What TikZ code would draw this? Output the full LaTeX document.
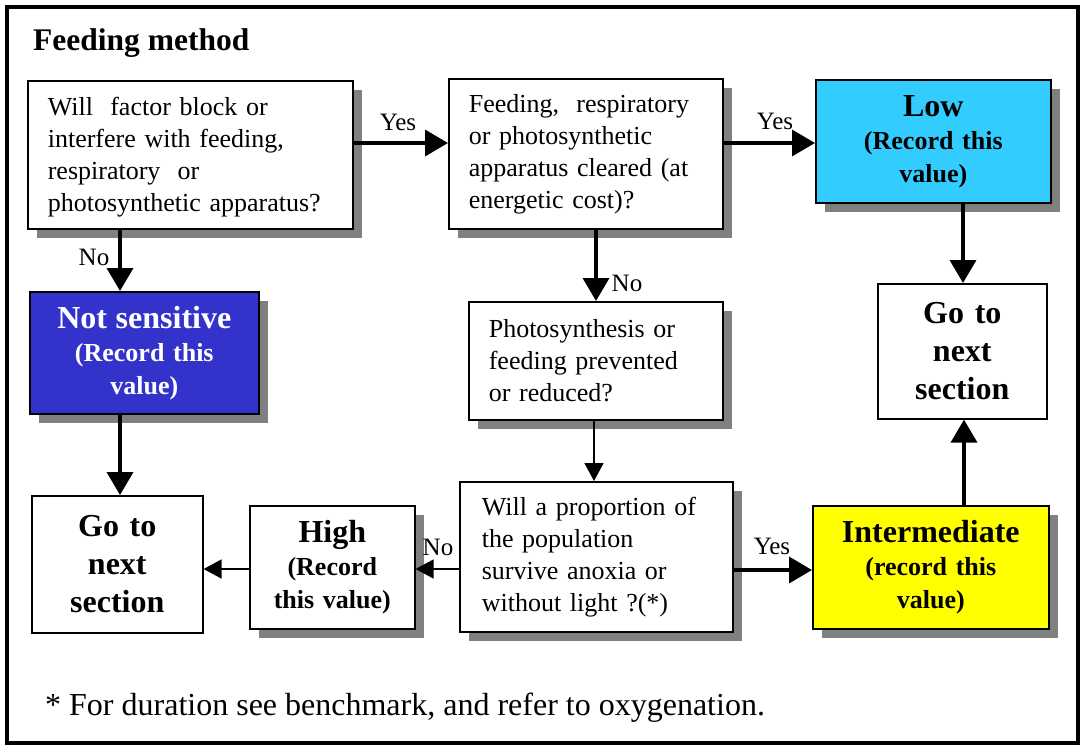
\documentclass[tikz,border=0pt]{standalone}
\usepackage{fontspec}
\setmainfont{Liberation Serif}
\usetikzlibrary{shadows,arrows.meta}

\definecolor{lowcol}{HTML}{33CCFF}
\definecolor{nscol}{HTML}{3333CC}
\definecolor{intcol}{HTML}{FFFF00}

\tikzset{
  shadowed/.style={drop shadow={shadow xshift=9pt, shadow yshift=-9pt, fill=gray, opacity=1}},
  qbox/.style={draw, line width=1.6pt, fill=white, anchor=north west, inner xsep=20pt, inner ysep=0pt,
    align=left, font=\fontsize{26}{32}\selectfont, shadowed},
  valbox/.style={draw, line width=1.6pt, anchor=north west, inner sep=0pt, align=center,
    font=\bfseries\fontsize{26}{33}\selectfont, shadowed},
  gobox/.style={draw, line width=1.6pt, fill=white, anchor=north west, inner sep=0pt, align=center,
    font=\bfseries\fontsize{32}{38}\selectfont},
  thickarrow/.style={line width=3.6pt, -{Triangle[length=23pt,width=26pt]}},
  thinarrow/.style={line width=1.6pt, -{Triangle[length=18pt,width=19pt]}},
  lbl/.style={font=\fontsize{25}{28}\selectfont, inner sep=0pt},
}

\begin{document}
\begin{tikzpicture}[x=1pt, y=-1pt]
\useasboundingbox (0,0) rectangle (1082,745);
\fill[white] (0,0) rectangle (1082,745);

% outer frame
\draw[line width=4pt] (6.5,7) rectangle (1078,742.5);

% heading and footnote
\node[anchor=west, inner sep=0pt, font=\bfseries\fontsize{31.5}{34}\selectfont] (title) at (33,43) {Feeding method};
\node[anchor=west, inner sep=0pt, font=\fontsize{32}{34}\selectfont] (foot) at (45,708)
  {* For duration see benchmark, and refer to oxygenation.};

% question boxes
\node[qbox, text width=285pt, minimum height=148pt] (q1) at (27,80)
  {\strut Will~ factor block or\\ interfere with feeding,\\ respiratory~ or\\ photosynthetic apparatus?};
\node[qbox, text width=234pt, minimum height=150pt] (q2) at (448,78)
  {Feeding,~ respiratory\\ or photosynthetic\\ apparatus cleared (at\\ energetic cost)?};
\node[qbox, text width=214pt, minimum height=118pt] (q3) at (468,301)
  {Photosynthesis or\\ feeding prevented\\ or reduced?};
\node[qbox, inner xsep=22pt, text width=229pt, minimum height=150pt] (q4) at (459,481)
  {Will a proportion of\\ the population\\ survive anoxia or\\ without light ?(*)};

% value boxes
\node[valbox, fill=lowcol, text width=235pt, minimum height=123pt] (low) at (815,79)
  {{\fontsize{32}{32}\selectfont Low}\\ (Record this\\ value)};
\node[valbox, fill=nscol, text=white, text width=229pt, minimum height=122pt] (ns) at (29,291)
  {{\fontsize{32}{32}\selectfont Not sensitive}\\ (Record this\\ value)};
\node[valbox, fill=white, text width=165pt, minimum height=123pt] (high) at (249,505)
  {{\fontsize{32}{32}\selectfont High}\\ (Record\\ this value)};
\node[valbox, fill=intcol, text width=236pt, minimum height=123pt] (int) at (812,505)
  {{\fontsize{32}{32}\selectfont Intermediate}\\ (record this\\ value)};

% exits
\node[gobox, text width=169pt, minimum height=135pt] (gor) at (877,283) {Go to\\ next\\ section};
\node[gobox, text width=171pt, minimum height=137pt] (gol) at (31,495) {Go to\\ next\\ section};

% connectors
\draw[thickarrow] (q1.east |- 0,143) -- (q2.west |- 0,143);
\draw[thickarrow] (q2.east |- 0,143) -- (low.west |- 0,143);
\draw[thickarrow] (q1.south -| 120,0) -- (ns.north -| 120,0);
\draw[thickarrow] (q2.south -| 596,0) -- (q3.north -| 596,0);
\draw[thickarrow] (low.south -| 963,0) -- (gor.north -| 963,0);
\draw[thickarrow] (ns.south -| 120,0) -- (gol.north -| 120,0);
\draw[thinarrow] (q3.south -| 594,0) -- (q4.north -| 594,0);
\draw[thinarrow] (q4.west |- 0,569) -- (high.east |- 0,569);
\draw[thinarrow] (high.west |- 0,569) -- (gol.east |- 0,569);
\draw[thickarrow] (q4.east |- 0,570) -- (int.west |- 0,570);
\draw[thickarrow] (int.north -| 964,0) -- (gor.south -| 964,0);

% branch labels
\node[lbl] (y1) at (398,122) {Yes};
\node[lbl] (y2) at (775,121) {Yes};
\node[lbl] (n1) at (94,257) {No};
\node[lbl] (n2) at (627,283) {No};
\node[lbl] (n3) at (438,547) {No};
\node[lbl] (y3) at (772,546) {Yes};
\end{tikzpicture}
\end{document}
